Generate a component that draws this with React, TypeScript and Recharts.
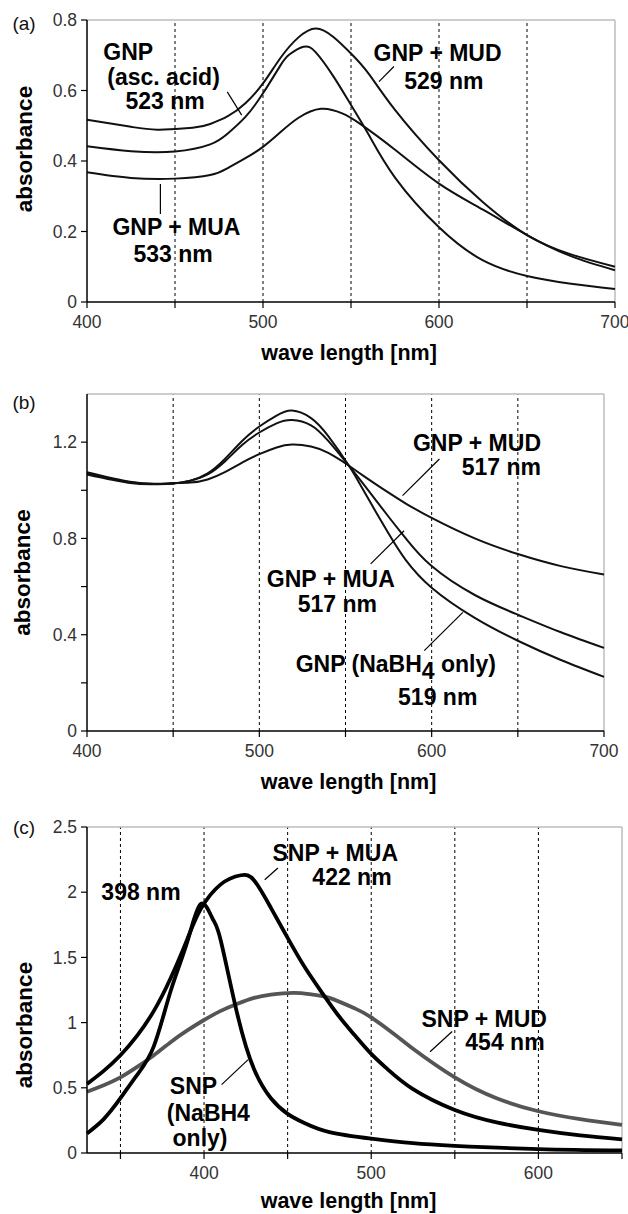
import React from 'react';
import { LineChart, Line, XAxis, YAxis, ReferenceLine, ReferenceDot } from 'recharts';

const FONT = '"Liberation Sans", Arial, Helvetica, sans-serif';

// ---------- Panel (a) ----------
const aMudWave = [400, 425, 440, 460, 470, 480, 490, 500, 510, 520, 530, 540, 550, 560, 575, 600, 625, 650, 675, 700];
const aMudAbs = [0.517, 0.497, 0.489, 0.494, 0.505, 0.527, 0.564, 0.62, 0.693, 0.75, 0.776, 0.752, 0.705, 0.648, 0.545, 0.402, 0.283, 0.19, 0.135, 0.1];
const aAscWave = [400, 425, 450, 470, 480, 490, 500, 510, 515, 523, 530, 540, 550, 560, 575, 600, 625, 650, 675, 700];
const aAscAbs = [0.442, 0.428, 0.427, 0.447, 0.478, 0.525, 0.592, 0.672, 0.702, 0.724, 0.708, 0.64, 0.559, 0.475, 0.353, 0.212, 0.118, 0.074, 0.052, 0.037];
const aMuaWave = [400, 425, 450, 470, 480, 490, 500, 510, 520, 533, 545, 555, 575, 600, 625, 650, 675, 700];
const aMuaAbs = [0.368, 0.352, 0.35, 0.36, 0.38, 0.408, 0.44, 0.482, 0.522, 0.548, 0.535, 0.506, 0.432, 0.336, 0.262, 0.19, 0.13, 0.09];
const aXTicks = [400, 450, 500, 550, 600, 650, 700];
const aYTicks = [0, 0.2, 0.4, 0.6, 0.8];
const aGrid = [450, 500, 550, 600, 650];

// ---------- Panel (b) ----------
const bWave = [400, 425, 440, 450, 460, 470, 480, 490, 500, 510, 519, 530, 540, 552, 560, 575, 585, 600, 625, 650, 675, 700];
const bMudAbs = [1.075, 1.035, 1.027, 1.03, 1.032, 1.045, 1.075, 1.115, 1.15, 1.178, 1.19, 1.182, 1.155, 1.102, 1.062, 0.99, 0.945, 0.885, 0.8, 0.735, 0.685, 0.65];
const bMuaAbs = [1.07, 1.033, 1.026, 1.028, 1.04, 1.066, 1.12, 1.188, 1.24, 1.278, 1.292, 1.27, 1.205, 1.102, 1.03, 0.89, 0.8, 0.685, 0.565, 0.483, 0.41, 0.345];
const bNaAbs = [1.065, 1.03, 1.025, 1.028, 1.04, 1.07, 1.13, 1.205, 1.265, 1.31, 1.331, 1.3, 1.225, 1.102, 1.005, 0.82, 0.71, 0.595, 0.47, 0.375, 0.295, 0.225];
const bXTicks = [400, 450, 500, 550, 600, 650, 700];
const bYTicks = [0, 0.2, 0.4, 0.6, 0.8, 1, 1.2];
const bYLabels: Record<string, string> = { '0': '0', '0.4': '0.4', '0.8': '0.8', '1.2': '1.2' };
const bGrid = [450, 500, 550, 600, 650];

// ---------- Panel (c) ----------
const cNaWave = [330, 340, 350, 360, 370, 380, 390, 398, 405, 410, 420, 430, 440, 450, 460, 475, 500, 525, 550, 600, 650];
const cNaAbs = [0.15, 0.26, 0.42, 0.6, 0.82, 1.24, 1.62, 1.91, 1.8, 1.63, 1.06, 0.64, 0.42, 0.3, 0.23, 0.16, 0.11, 0.075, 0.055, 0.03, 0.02];
const cMuaWave = [330, 340, 350, 360, 370, 380, 390, 398, 410, 422, 430, 440, 450, 460, 470, 480, 490, 500, 510, 525, 550, 575, 600, 625, 650];
const cMuaAbs = [0.53, 0.63, 0.75, 0.9, 1.09, 1.34, 1.64, 1.87, 2.06, 2.13, 2.09, 1.88, 1.65, 1.43, 1.24, 1.06, 0.905, 0.76, 0.64, 0.49, 0.33, 0.235, 0.177, 0.135, 0.105];
const cMudWave = [330, 340, 350, 360, 370, 380, 390, 400, 410, 420, 430, 440, 454, 465, 475, 490, 500, 515, 525, 550, 575, 600, 625, 650];
const cMudAbs = [0.47, 0.52, 0.58, 0.66, 0.75, 0.85, 0.94, 1.02, 1.09, 1.145, 1.19, 1.215, 1.228, 1.215, 1.19, 1.11, 1.04, 0.9, 0.8, 0.58, 0.42, 0.32, 0.26, 0.215];
const cXTicks = [350, 400, 450, 500, 550, 600, 650];
const cYTicks = [0, 0.5, 1, 1.5, 2, 2.5];
const cGrid = [350, 400, 450, 500, 550, 600];

const zip = (w: number[], a: number[]) => w.map((x, i) => ({ x, y: a[i] }));

const tickStyle = { fill: '#333', fontSize: 17.5, fontFamily: FONT };
const axisLine = { stroke: '#000', strokeWidth: 1.5 };
const tickLine = { stroke: '#000', strokeWidth: 1.2 };
const BORDER = '#bdbdbd';

const noteContent = (text: React.ReactNode, size: number) => (props: any) => {
  const vb = props.viewBox || {};
  const cx = vb.cx !== undefined ? vb.cx : vb.x + (vb.width || 0) / 2;
  const cy = vb.cy !== undefined ? vb.cy : vb.y + (vb.height || 0) / 2;
  return (
    <text x={cx} y={cy} textAnchor="middle" dominantBaseline="central" fontFamily={FONT} fontWeight="bold" fontSize={size} fill="#000">
      {text}
    </text>
  );
};

const note = (key: string, x: number, y: number, text: React.ReactNode, size = 23) => (
  <ReferenceDot key={key} x={x} y={y} r={0} fill="none" stroke="none" label={noteContent(text, size)} />
);

const leader = (key: string, x1: number, y1: number, x2: number, y2: number) => (
  <ReferenceLine key={key} segment={[{ x: x1, y: y1 }, { x: x2, y: y2 }]} stroke="#000" strokeWidth={1.2} />
);

const yTitle = (dy: number, letter: string, letterDy: number, tx: number) => (props: any) => {
  const vb = props.viewBox || {};
  const cy = vb.y + vb.height / 2 + dy;
  return (
    <g>
      <text
        transform={`translate(${tx}, ${cy}) rotate(-90)`}
        textAnchor="middle"
        dominantBaseline="central"
        fontFamily={FONT}
        fontWeight="bold"
        fontSize={22.5}
        fill="#000"
      >
        absorbance
      </text>
      <text x={24} y={vb.y + letterDy} textAnchor="middle" dominantBaseline="central" fontFamily={FONT} fontSize={19} fill="#111">
        {letter}
      </text>
    </g>
  );
};

const xTitle = (dx: number, dy: number) => (props: any) => {
  const vb = props.viewBox || {};
  return (
    <text x={vb.x + vb.width / 2 + dx} y={vb.y + dy} textAnchor="middle" dominantBaseline="central" fontFamily={FONT} fontWeight="bold" fontSize={21.5} fill="#000">
      wave length [nm]
    </text>
  );
};

const hundreds = (v: number) => (v % 100 === 0 ? String(v) : '');

const gridLines = (vals: number[]) =>
  vals.map((v) => <ReferenceLine key={'g' + v} x={v} stroke="#000" strokeWidth={1} strokeDasharray="3 3" />);

const curve = (key: string, data: { x: number; y: number }[], color: string, width: number) => (
  <Line
    key={key}
    data={data}
    dataKey="y"
    type="natural"
    stroke={color}
    strokeWidth={width}
    dot={false}
    activeDot={false}
    isAnimationActive={false}
  />
);

function PanelA() {
  return (
    <LineChart width={628} height={370} margin={{ top: 20, right: 13, bottom: 0, left: 0 }}>
      <XAxis
        dataKey="x"
        type="number"
        domain={[400, 700]}
        ticks={aXTicks}
        tickFormatter={hundreds}
        height={68}
        tick={tickStyle}
        tickSize={6}
        tickMargin={8}
        axisLine={axisLine}
        tickLine={tickLine}
        label={xTitle(-2, 51)}
      />
      <YAxis
        type="number"
        domain={[0, 0.8]}
        ticks={aYTicks}
        tickFormatter={(v: number) => (v === 0 ? '0' : v.toFixed(1))}
        width={87}
        tick={tickStyle}
        tickSize={6}
        tickMargin={4}
        axisLine={axisLine}
        tickLine={tickLine}
        label={yTitle(-12, '(a)', 3.3, 24)}
      />
      {gridLines(aGrid)}
      <ReferenceLine y={0.8} stroke={BORDER} strokeWidth={1.5} />
      <ReferenceLine x={700} stroke={BORDER} strokeWidth={1.5} />
      {curve('mud', zip(aMudWave, aMudAbs), '#111', 2)}
      {curve('asc', zip(aAscWave, aAscAbs), '#111', 2)}
      {curve('mua', zip(aMuaWave, aMuaAbs), '#111', 2)}
      {note('a1', 423.4, 0.708, 'GNP')}
      {note('a2', 443.5, 0.639, '(asc. acid)')}
      {note('a3', 444.4, 0.571, '523 nm')}
      {leader('a4', 479.7, 0.596, 487.9, 0.53)}
      {note('a5', 599.2, 0.706, 'GNP + MUD')}
      {note('a6', 602.8, 0.626, '529 nm')}
      {leader('a7', 565.9, 0.625, 574.4, 0.668)}
      {note('a8', 450.8, 0.2125, 'GNP + MUA')}
      {note('a9', 448.9, 0.137, '533 nm')}
      {leader('a10', 441.7, 0.335, 441.7, 0.25)}
    </LineChart>
  );
}

function PanelB() {
  return (
    <LineChart width={628} height={420} margin={{ top: 20, right: 24, bottom: 0, left: 0 }}>
      <XAxis
        dataKey="x"
        type="number"
        domain={[400, 700]}
        ticks={bXTicks}
        tickFormatter={hundreds}
        height={63}
        tick={tickStyle}
        tickSize={6}
        tickMargin={8}
        axisLine={axisLine}
        tickLine={tickLine}
        label={xTitle(3, 51)}
      />
      <YAxis
        type="number"
        domain={[0, 1.4]}
        ticks={bYTicks}
        tickFormatter={(v: number) => bYLabels[String(v)] || ''}
        width={87}
        tick={tickStyle}
        tickSize={6}
        tickMargin={4}
        axisLine={axisLine}
        tickLine={tickLine}
        label={yTitle(10, '(b)', 8.5, 22)}
      />
      {gridLines(bGrid)}
      <ReferenceLine y={1.4} stroke={BORDER} strokeWidth={1.5} />
      <ReferenceLine x={700} stroke={BORDER} strokeWidth={1.5} />
      {curve('mud', zip(bWave, bMudAbs), '#111', 2)}
      {curve('mua', zip(bWave, bMuaAbs), '#111', 2)}
      {curve('na', zip(bWave, bNaAbs), '#111', 2)}
      {note('b1', 626.3, 1.198, 'GNP + MUD')}
      {note('b2', 640.4, 1.097, '517 nm')}
      {leader('b3', 583.1, 0.978, 604.5, 1.13)}
      {note('b4', 541.5, 0.633, 'GNP + MUA')}
      {note('b5', 545.3, 0.526, '517 nm')}
      {leader('b6', 564.6, 0.694, 584, 0.832)}
      {note(
        'b7',
        579.2,
        0.278,
        <>
          GNP (NaBH<tspan dy={7}>4</tspan>
          <tspan dy={-7}> only)</tspan>
        </>,
      )}
      {note('b8', 603.5, 0.14, '519 nm')}
      {leader('b9', 595.7, 0.334, 618.1, 0.493)}
    </LineChart>
  );
}

function PanelC() {
  return (
    <LineChart width={628} height={414} margin={{ top: 27, right: 6, bottom: 0, left: 0 }}>
      <XAxis
        dataKey="x"
        type="number"
        domain={[330, 650]}
        ticks={cXTicks}
        tickFormatter={hundreds}
        height={61}
        tick={tickStyle}
        tickSize={6}
        tickMargin={8}
        axisLine={axisLine}
        tickLine={tickLine}
        label={xTitle(-6, 48)}
      />
      <YAxis
        type="number"
        domain={[0, 2.5]}
        ticks={cYTicks}
        tickFormatter={(v: number) => String(v)}
        width={87}
        tick={tickStyle}
        tickSize={6}
        tickMargin={4}
        axisLine={axisLine}
        tickLine={tickLine}
        label={yTitle(35, '(c)', 0, 24)}
      />
      {gridLines(cGrid)}
      <ReferenceLine y={2.5} stroke={BORDER} strokeWidth={1.5} />
      <ReferenceLine x={650} stroke={BORDER} strokeWidth={1.5} />
      {curve('mud', zip(cMudWave, cMudAbs), '#555', 3.8)}
      {curve('mua', zip(cMuaWave, cMuaAbs), '#000', 3.8)}
      {curve('na', zip(cNaWave, cNaAbs), '#000', 3.8)}
      {note('c1', 478.5, 2.3, 'SNP + MUA')}
      {note('c2', 488.5, 2.12, '422 nm')}
      {leader('c3', 436.3, 2.096, 444.2, 2.186)}
      {note('c4', 362.3, 2.0, '398 nm')}
      {note('c5', 567.6, 1.03, 'SNP + MUD')}
      {note('c6', 580, 0.85, '454 nm')}
      {leader('c7', 535.2, 0.776, 548.4, 0.932)}
      {note('c8', 393.7, 0.511, 'SNP')}
      {note('c9', 402.6, 0.307, '(NaBH4')}
      {note('c10', 397.6, 0.115, 'only)')}
      {leader('c11', 410.5, 0.524, 426.4, 0.716)}
    </LineChart>
  );
}

export default function App() {
  return (
    <div style={{ position: 'absolute', left: 0, top: 0, width: 628, height: 1214, background: '#fff', overflow: 'hidden' }}>
      <div style={{ position: 'absolute', left: 0, top: 0 }}>
        <PanelA />
      </div>
      <div style={{ position: 'absolute', left: 0, top: 374 }}>
        <PanelB />
      </div>
      <div style={{ position: 'absolute', left: 0, top: 800 }}>
        <PanelC />
      </div>
    </div>
  );
}
